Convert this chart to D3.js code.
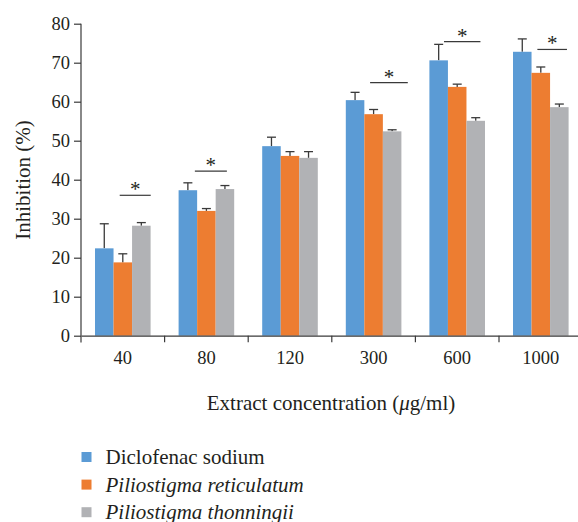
<!DOCTYPE html>
<html>
<head>
<meta charset="utf-8">
<script src="https://cdn.jsdelivr.net/npm/d3@7"></script>
<style>
  body { margin:0; background:#fff; }
  svg text { font-family:"Liberation Serif", "Times New Roman", serif; fill:#231f20; }
</style>
</head>
<body>
<svg id="chart" width="578" height="522"></svg>
<script>
// concentrations on the x axis
var concentrations = ["40", "80", "120", "300", "600", "1000"];
var seriesNames = ["Diclofenac sodium", "Piliostigma reticulatum", "Piliostigma thonningii"];
var seriesItalic = [false, true, true];
var colors = ["#5b9bd5", "#ed7d31", "#b1b2b5"];

// mean inhibition (%)
var diclofenac   = [22.4, 37.3, 48.6, 60.4, 70.6, 72.8];
var reticulatum  = [18.8, 32.0, 46.1, 56.8, 63.8, 67.4];
var thonningii   = [28.2, 37.6, 45.6, 52.4, 55.1, 58.6];
// top of error bar
var diclofenacErr  = [28.7, 39.2, 50.9, 62.4, 74.7, 76.1];
var reticulatumErr = [21.0, 32.6, 47.2, 58.0, 64.5, 68.9];
var thonningiiErr  = [29.0, 38.5, 47.2, 52.8, 55.9, 59.4];

var yTicks = [0, 10, 20, 30, 40, 50, 60, 70, 80];

// significance bars: concentration, level, start / end as share of band
var sigCats  = ["40", "80", "300", "600", "1000"];
var sigLevel = [36.0, 42.2, 64.9, 75.4, 73.4];
var sigFrom  = [0.463, 0.362, 0.458, 0.342, 0.459];
var sigTo    = [0.834, 0.745, 0.909, 0.778, 0.813];

var means = [diclofenac, reticulatum, thonningii];
var errs = [diclofenacErr, reticulatumErr, thonningiiErr];

var svg = d3.select("#chart");
var axisCol = "#3a3a3a";

var x = d3.scaleBand().domain(concentrations).range([81, 582.6]).padding(0);
var bw = x.bandwidth();
var xs = d3.scaleBand().domain(d3.range(3)).range([bw*0.1675, bw*0.8325]).padding(0);
var y = d3.scaleLinear().domain([0, 80]).range([335.7, 23.7]);

// bars
var rows = [];
concentrations.forEach(function(c, ci){
	means.forEach(function(m, si){
		rows.push({c:c, s:si, v:m[ci], e:errs[si][ci]});
	});
});

var g = svg.append("g");

// error bars first, drawn under nothing (only upper part)
g.selectAll("line.err").data(rows).enter().append("line")
	.attr("class","err")
	.attr("x1", function(d){ return x(d.c)+xs(d.s)+xs.bandwidth()/2; })
	.attr("x2", function(d){ return x(d.c)+xs(d.s)+xs.bandwidth()/2; })
	.attr("y1", function(d){ return y(d.v); })
	.attr("y2", function(d){ return y(d.e); })
	.attr("stroke", axisCol).attr("stroke-width", 1.3);
g.selectAll("line.cap").data(rows).enter().append("line")
	.attr("class","cap")
	.attr("x1", function(d){ return x(d.c)+xs(d.s)+xs.bandwidth()/2-4.5; })
	.attr("x2", function(d){ return x(d.c)+xs(d.s)+xs.bandwidth()/2+4.5; })
	.attr("y1", function(d){ return y(d.e); })
	.attr("y2", function(d){ return y(d.e); })
	.attr("stroke", axisCol).attr("stroke-width", 1.3);

g.selectAll("rect").data(rows).enter().append("rect")
	.attr("x", function(d){ return x(d.c)+xs(d.s); })
	.attr("width", xs.bandwidth())
	.attr("y", function(d){ return y(d.v); })
	.attr("height", function(d){ return y(0)-y(d.v); })
	.attr("fill", function(d){ return colors[d.s]; });

// significance lines + asterisks
sigCats.forEach(function(c, i){
	var x0 = x(c)+bw*sigFrom[i], x1 = x(c)+bw*sigTo[i];
	svg.append("line").attr("x1", x0).attr("x2", x1)
		.attr("y1", y(sigLevel[i])).attr("y2", y(sigLevel[i]))
		.attr("stroke", axisCol).attr("stroke-width", 1.2);
	svg.append("text").attr("x", (x0+x1)/2).attr("y", y(sigLevel[i])+1)
		.attr("text-anchor","middle").style("font-size","21px").text("*");
});

// y axis
var yAxis = svg.append("g").attr("transform","translate(81,0)")
	.call(d3.axisLeft(y).tickValues(yTicks).tickSize(7).tickPadding(4));
yAxis.select(".domain").attr("stroke", axisCol).attr("stroke-width",1.2).attr("d","M0,23.7V342.5");
yAxis.selectAll(".tick line").attr("stroke", axisCol).attr("stroke-width",1.2);
yAxis.selectAll("text").style("font-size","18.5px").attr("fill","#231f20");

// x axis
var xAxis = svg.append("g").attr("transform","translate(0,"+y(0)+")")
	.call(d3.axisBottom(x).tickSize(0).tickPadding(15));
xAxis.select(".domain").attr("stroke", axisCol).attr("stroke-width",1.2);
xAxis.selectAll("text").style("font-size","18.5px").attr("fill","#231f20");
// separators between groups
xAxis.selectAll(".sep").data(concentrations.slice(1)).enter().append("line")
	.attr("class","sep")
	.attr("x1", function(d){ return x(d); }).attr("x2", function(d){ return x(d); })
	.attr("y1", 0).attr("y2", 6.5)
	.attr("stroke", axisCol).attr("stroke-width",1.2);

// axis titles
svg.append("text").attr("transform","translate(30,180) rotate(-90)")
	.attr("text-anchor","middle").style("font-size","21px").text("Inhibition (%)");
var xt = svg.append("text").attr("x", 331).attr("y", 409.5)
	.attr("text-anchor","middle").style("font-size","21px");
xt.append("tspan").text("Extract concentration (");
xt.append("tspan").style("font-style","italic").text("\u03bc");
xt.append("tspan").text("g/ml)");

// legend
var leg = svg.selectAll("g.leg").data(seriesNames).enter().append("g")
	.attr("class","leg")
	.attr("transform", function(d,i){ return "translate(81.5,"+(457+i*27.6)+")"; });
leg.append("rect").attr("x",0).attr("y",-5).attr("width",10).attr("height",10)
	.attr("fill", function(d,i){ return colors[i]; });
leg.append("text").attr("x", 24).attr("y", 7)
	.style("font-size","21px")
	.style("font-style", function(d,i){ return seriesItalic[i] ? "italic" : "normal"; })
	.text(function(d){ return d; });
</script>
</body>
</html>
